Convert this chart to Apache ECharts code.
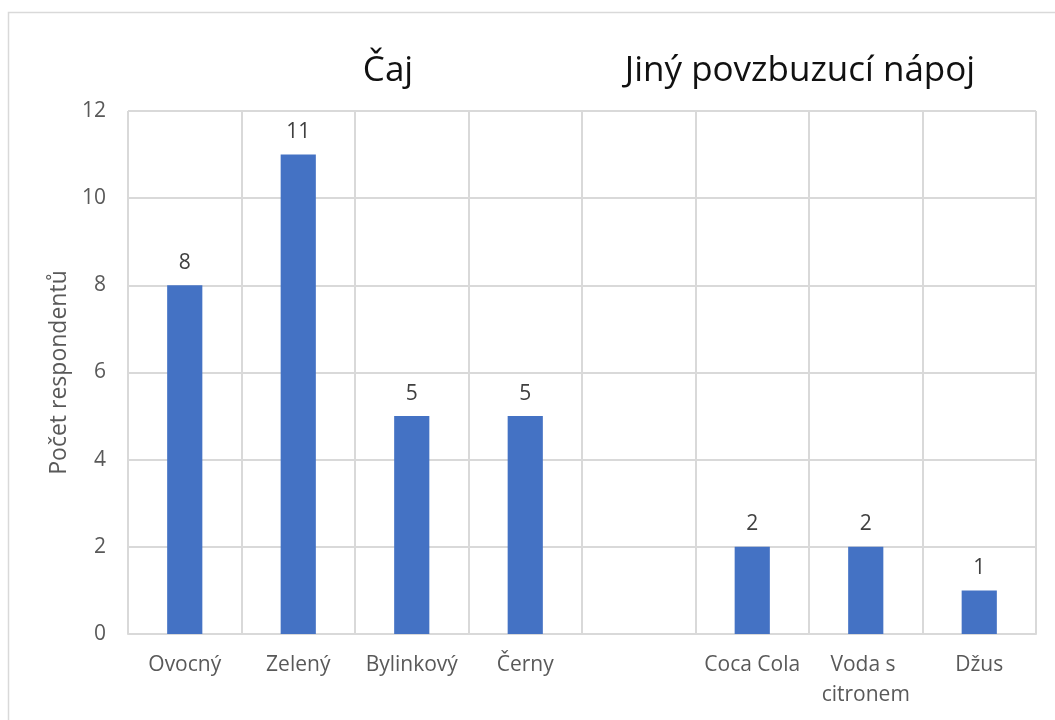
<!DOCTYPE html>
<html>
<head>
<meta charset="utf-8">
<script src="https://cdn.jsdelivr.net/npm/echarts@6/dist/echarts.min.js"></script>
<style>
  html, body { margin: 0; padding: 0; background: #ffffff; }
  #chart { width: 1055px; height: 720px; }
</style>
</head>
<body>
<div id="chart"></div>
<script>
// Drink categories; the empty slot separates the tea group from the other drinks
const categories = ['Ovocný', 'Zelený', 'Bylinkový', 'Černy', '', 'Coca Cola', 'Voda s citronem', 'Džus'];
// Number of respondents per drink
const respondents = [8, 11, 5, 5, null, 2, 2, 1];
// Group headings above the bars
const groupTitles = ['Čaj', 'Jiný povzbuzucí nápoj'];
const yAxisName = 'Počet respondentů';
const yMin = 0, yMax = 12, yStep = 2;

const FONT = 'Open Sans';
const GRID_COLOR = '#d9d9d9';
const TEXT_COLOR = '#595959';

const chart = echarts.init(document.getElementById('chart'), null, { renderer: 'canvas' });

chart.setOption({
  backgroundColor: '#ffffff',
  animation: false,
  textStyle: { fontFamily: FONT },
  title: [
    {
      text: groupTitles[0],
      left: 383, top: 49, textAlign: 'center',
      textStyle: { fontFamily: FONT, fontSize: 35, fontWeight: 'normal', color: '#111111' }
    },
    {
      text: groupTitles[1],
      left: 795, top: 49, textAlign: 'center',
      textStyle: { fontFamily: FONT, fontSize: 35, fontWeight: 'normal', color: '#111111' }
    }
  ],
  graphic: [
    {
      type: 'rect',
      shape: { x: 8.5, y: 12.5, width: 1100, height: 800 },
      style: { fill: 'none', stroke: GRID_COLOR, lineWidth: 1.5 },
      silent: true
    }
  ],
  grid: { left: 128, right: 19, top: 111, bottom: 86, containLabel: false },
  xAxis: {
    type: 'category',
    data: categories,
    boundaryGap: true,
    axisLine: { show: true, lineStyle: { color: GRID_COLOR, width: 2 } },
    axisTick: { show: false },
    splitLine: { show: true, lineStyle: { color: GRID_COLOR, width: 2 } },
    axisLabel: {
      color: TEXT_COLOR,
      fontFamily: FONT,
      fontSize: 21,
      lineHeight: 30,
      margin: 16,
      interval: 0,
      width: 112,
      overflow: 'break'
    }
  },
  yAxis: {
    type: 'value',
    min: yMin, max: yMax, interval: yStep,
    name: yAxisName,
    nameLocation: 'middle',
    nameGap: 55,
    nameRotate: 90,
    nameTextStyle: { color: TEXT_COLOR, fontFamily: FONT, fontSize: 23 },
    axisLine: { show: false },
    axisTick: { show: false },
    splitLine: { show: true, lineStyle: { color: GRID_COLOR, width: 2 } },
    axisLabel: { color: TEXT_COLOR, fontFamily: FONT, fontSize: 21, margin: 22 }
  },
  series: [
    {
      type: 'bar',
      data: respondents,
      barWidth: '31%',
      itemStyle: { color: '#4472C4' },
      label: {
        show: true,
        position: 'top',
        distance: 12,
        color: '#404040',
        fontFamily: FONT,
        fontSize: 21
      }
    }
  ]
});
</script>
</body>
</html>
